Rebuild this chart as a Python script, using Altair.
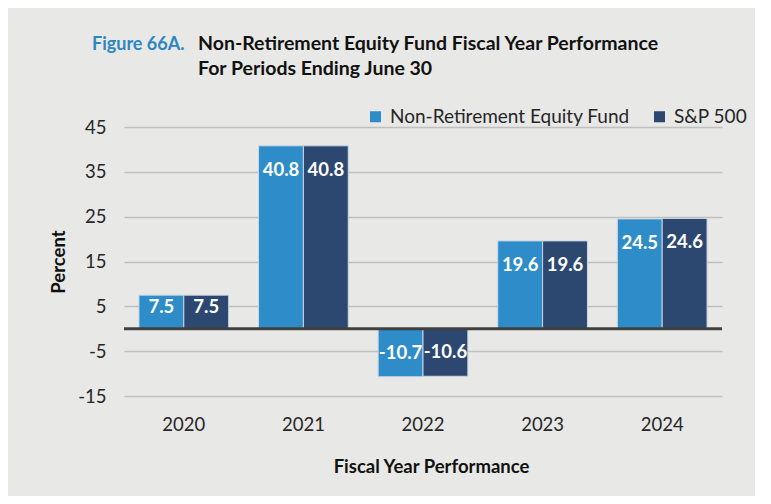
import altair as alt
import pandas as pd

years = ["2020", "2021", "2022", "2023", "2024"]
fund = [7.5, 40.8, -10.7, 19.6, 24.5]
sp500 = [7.5, 40.8, -10.6, 19.6, 24.6]
series = ["Non-Retirement Equity Fund", "S&P 500"]
colors = ["#2E8DC8", "#2C4870"]
y_ticks = [-15, -5, 5, 15, 25, 35, 45]

rows = []
for i, yr in enumerate(years):
    rows.append({"year": yr, "series": series[0], "value": fund[i]})
    rows.append({"year": yr, "series": series[1], "value": sp500[i]})
df = pd.DataFrame(rows)

FONT = "Lato"
W, H = 598, 269

x_enc = alt.X("year:N", title="Fiscal Year Performance",
              scale=alt.Scale(paddingInner=0.25, paddingOuter=0.125),
              axis=alt.Axis(labelAngle=0, ticks=False, domain=False,
                            labelFontSize=18.5, labelFont=FONT, labelColor="#262626",
                            labelBaseline="middle", labelPadding=28,
                            titleFont=FONT, titleFontSize=18.5, titleFontWeight="bold",
                            titleColor="#111111", titleX=307, titleY=70,
                            titleBaseline="middle"))
y_enc = alt.Y("value:Q", title="Percent",
              scale=alt.Scale(domain=[-15, 45], nice=False, zero=False),
              axis=alt.Axis(values=y_ticks, ticks=False, domain=False,
                            gridColor="#BFBFBF", gridWidth=1.5,
                            labelExpr="replace(datum.label, '\u2212', '-')",
                            labelFontSize=18.5, labelFont=FONT, labelColor="#262626",
                            labelPadding=18,
                            titleFont=FONT, titleFontSize=18.5, titleFontWeight="bold",
                            titleColor="#111111", titleAngle=-90, titleX=-66,
                            titleY=H / 2, titleAlign="center", titleBaseline="middle"))

color_enc = alt.Color("series:N", scale=alt.Scale(domain=series, range=colors),
                      legend=alt.Legend(title=None, orient="none", direction="horizontal",
                                        legendX=242, legendY=-20,
                                        symbolType="square", symbolSize=121,
                                        symbolStrokeWidth=0, labelLimit=0,
                                        labelFont=FONT, labelFontSize=19,
                                        labelColor="#262626", labelOffset=5,
                                        columnPadding=20))

base = alt.Chart(df)

bars = base.mark_bar(stroke="#c9d6e4", strokeWidth=1).encode(
    x=x_enc,
    xOffset=alt.XOffset("series:N", sort=series),
    y=y_enc,
    color=color_enc,
)

labels = base.transform_calculate(
    ly="datum.value >= 10 ? datum.value - 5.35 : (datum.value < 0 ? datum.value + 5.35 : datum.value * 0.66)",
    lt="'' + datum.value",
).mark_text(color="white", font=FONT, fontSize=18.5, fontWeight="bold",
            baseline="middle").encode(
    x=alt.X("year:N"),
    xOffset=alt.XOffset("series:N", sort=series),
    y=alt.Y("ly:Q"),
    text="lt:N",
)

zero = alt.Chart(pd.DataFrame({"z": [0]})).mark_rule(color="#404040", strokeWidth=3).encode(
    y="z:Q"
)

t1 = alt.Chart(pd.DataFrame({"t": ["Figure 66A."]})).mark_text(
    align="left", baseline="alphabetic", font=FONT, fontSize=18, fontWeight="bold",
    color="#2E86C1").encode(x=alt.value(-32), y=alt.value(-77), text="t:N")
t2 = alt.Chart(pd.DataFrame({"t": ["Non-Retirement Equity Fund Fiscal Year Performance"]})).mark_text(
    align="left", baseline="alphabetic", font=FONT, fontSize=19.5, fontWeight="bold",
    color="#111111").encode(x=alt.value(74), y=alt.value(-77), text="t:N")
t3 = alt.Chart(pd.DataFrame({"t": ["For Periods Ending June 30"]})).mark_text(
    align="left", baseline="alphabetic", font=FONT, fontSize=19.5, fontWeight="bold",
    color="#111111").encode(x=alt.value(74), y=alt.value(-52), text="t:N")

chart = alt.layer(bars, zero, labels, t1, t2, t3).properties(
    width=W, height=H,
    autosize=alt.AutoSizeParams(type="none"),
    padding={"left": 116, "top": 119, "right": 33, "bottom": 100},
    background="#E8E8E6",
).configure_view(stroke=None)

chart.save("out.html", embed_options={"renderer": "svg", "actions": False})
